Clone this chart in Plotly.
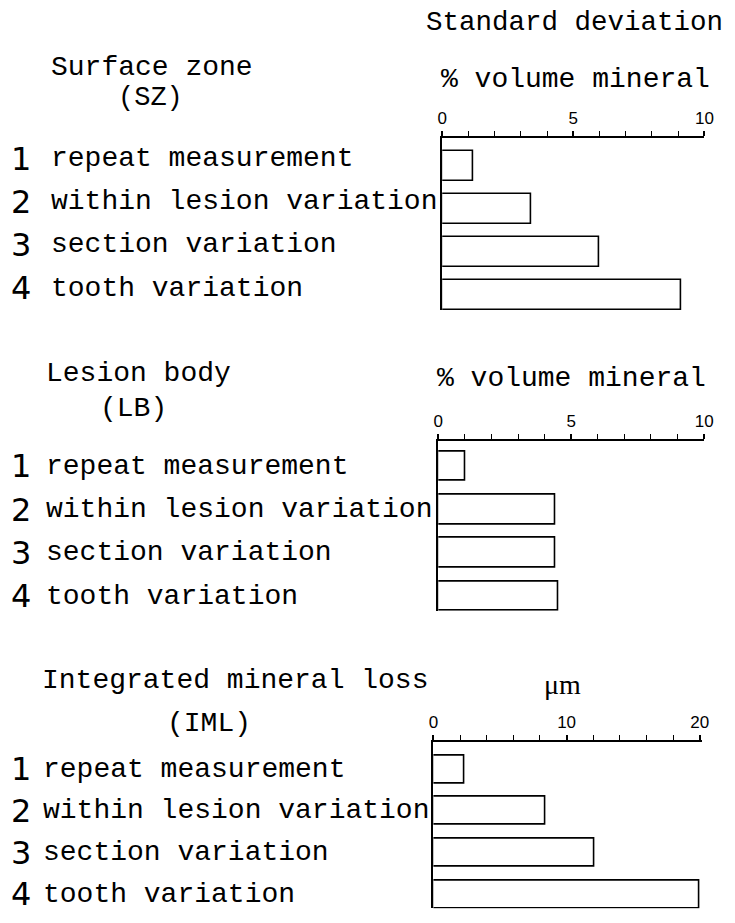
import plotly.graph_objects as go

W, H = 735, 923

# Sources of variation (same four rows in every panel)
row_numbers = ["1", "2", "3", "4"]
row_labels = ["repeat measurement", "within lesion variation",
              "section variation", "tooth variation"]

# Standard deviations
sz_values = [1.2, 3.4, 6.0, 9.1]      # surface zone, % volume mineral
lb_values = [1.0, 4.4, 4.4, 4.5]      # lesion body, % volume mineral
iml_values = [2.3, 8.4, 12.1, 20.0]   # integrated mineral loss, µm

sz_ticks = [0, 5, 10]
lb_ticks = [0, 5, 10]
iml_ticks = [0, 10, 20]

MONO = "Liberation Mono, Courier New, monospace"
SANS = "Liberation Sans, Arial, sans-serif"
DIGITS = "DejaVu Sans, Arial, sans-serif"
SERIF = "Liberation Serif, Times New Roman, serif"


def px(x):
    return x / W


def py(y):
    return 1 - y / H


# panel geometry in pixels: left of scale, scale end, scale max, axis line y,
# first bar centre, bar pitch, bar thickness, text indent, label y-shift
panels = [
    dict(vals=sz_values, ticks=sz_ticks, x0=445.7, x1=713.0, vmax=10, xmax=10,
         top=138.0, c0=166.0, pitch=43.0, bh=30.0, minor=1, indent=45, shift=7),
    dict(vals=lb_values, ticks=lb_ticks, x0=441.7, x1=712.7, vmax=10, xmax=10,
         top=440.7, c0=466.2, pitch=43.3, bh=29.5, minor=1, indent=40, shift=0),
    dict(vals=iml_values, ticks=iml_ticks, x0=436.7, x1=708.3, vmax=20, xmax=20.15,
         top=741.7, c0=769.2, pitch=41.7, bh=28.0, minor=2, indent=37, shift=0),
]

fig = go.Figure()
annotations = []

for i, p in enumerate(panels):
    n = i + 1
    xa = "x" if n == 1 else f"x{n}"
    ya = "y" if n == 1 else f"y{n}"
    scale = (p["x1"] - p["x0"]) / p["vmax"]
    xend = p["x0"] + p["xmax"] * scale
    bottom_px = p["c0"] + 3 * p["pitch"] + p["bh"] / 2
    y_top = -(p["c0"] - p["top"]) / p["pitch"]
    y_bot = 3 + (p["bh"] / 2) / p["pitch"]

    fig.add_trace(go.Bar(
        x=p["vals"], y=[0, 1, 2, 3], orientation="h",
        width=p["bh"] / p["pitch"],
        marker=dict(color="white", line=dict(color="black", width=1.6)),
        xaxis=xa, yaxis=ya, showlegend=False, hoverinfo="x",
    ))

    fig.layout[f"xaxis{'' if n == 1 else n}"] = dict(
        domain=[px(p["x0"]), px(xend)], range=[0, p["xmax"]], anchor=ya,
        side="top", showline=True, linecolor="black", linewidth=2.2,
        ticks="outside", ticklen=5, tickwidth=1.5, tickcolor="black",
        tickvals=p["ticks"], ticktext=[str(t) for t in p["ticks"]],
        tickfont=dict(family=SANS, size=17, color="black"),
        minor=dict(dtick=p["minor"], tick0=0, ticks="outside", ticklen=5,
                   tickwidth=1.3, tickcolor="black"),
        showgrid=False, zeroline=False, fixedrange=True,
    )
    fig.layout[f"yaxis{'' if n == 1 else n}"] = dict(
        domain=[py(bottom_px), py(p["top"])], range=[y_bot, y_top], anchor=xa,
        showline=True, linecolor="black", linewidth=1.6,
        showticklabels=False, ticks="", showgrid=False, zeroline=False,
        fixedrange=True,
    )

    for k in range(4):
        annotations.append(dict(
            x=px(4), xref="paper", y=k, yref=ya, yshift=p["shift"],
            text=row_numbers[k], showarrow=False, xanchor="left", yanchor="middle",
            font=dict(family=DIGITS, size=32, color="black"),
        ))
        annotations.append(dict(
            x=px(p["indent"]), xref="paper", y=k, yref=ya, yshift=p["shift"],
            text=row_labels[k], showarrow=False, xanchor="left", yanchor="middle",
            font=dict(family=MONO, size=28, color="black"),
        ))

# headings
headings = [
    ("Standard deviation", 580.5, 22, "center", MONO, 27.5),
    ("% volume mineral", 582, 79, "center", MONO, 28),
    ("Surface zone", 45, 67, "left", MONO, 28),
    ("(SZ)", 148.5, 98, "center", MONO, 27),
    ("% volume mineral", 577.5, 378, "center", MONO, 28),
    ("Lesion body", 40, 373, "left", MONO, 28),
    ("(LB)", 130.5, 408, "center", MONO, 28),
    ("μm", 568, 684, "center", SERIF, 28),
    ("Integrated mineral loss", 36, 680, "left", MONO, 28),
    ("(IML)", 208, 723, "center", MONO, 28),
]
for text, x, y, anchor, fam, size in headings:
    annotations.append(dict(
        x=px(x), xref="paper", y=py(y), yref="paper", text=text,
        showarrow=False, xanchor=anchor, yanchor="middle",
        font=dict(family=fam, size=size, color="black"),
    ))

fig.update_layout(
    width=W, height=H, margin=dict(l=0, r=0, t=0, b=0),
    paper_bgcolor="white", plot_bgcolor="white",
    annotations=annotations, bargap=0,
)

fig.write_html("out.html", config={"displayModeBar": False})
